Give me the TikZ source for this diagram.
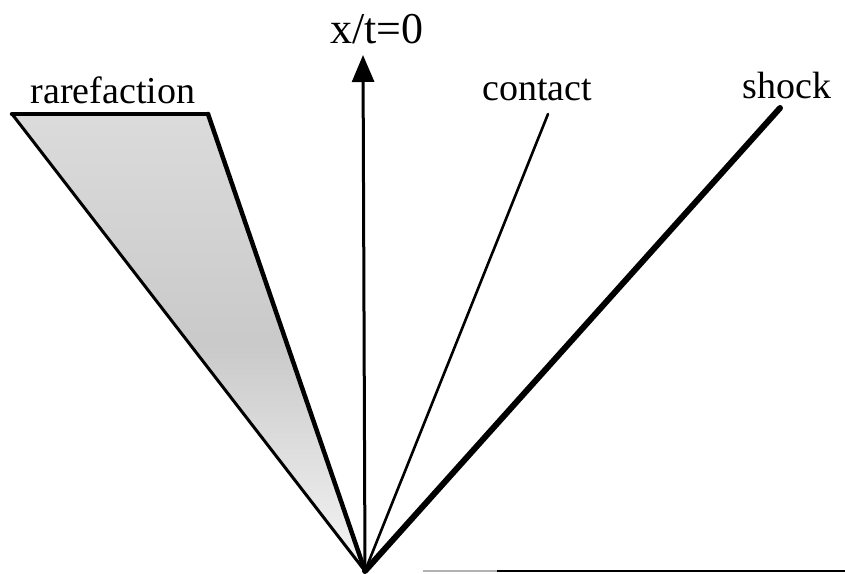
\documentclass[tikz,border=0pt]{standalone}
\usepackage{fontspec}
\setmainfont{Liberation Serif}
\usetikzlibrary{arrows.meta}
\tikzset{
  lbl/.style={inner sep=0pt, anchor=base, font=\fontsize{38}{44}\selectfont},
  wave/.style={line cap=round, line join=round}
}
\begin{document}
\begin{tikzpicture}[x=1pt,y=-1pt]
\useasboundingbox (0,0) rectangle (845,573);
\coordinate (O) at (365,571);
\coordinate (RL) at (12,114);
\coordinate (RR) at (208,114);
\coordinate (C) at (548,114);
\coordinate (S) at (780,108);
\coordinate (T) at (363,55);
\coordinate (B1) at (423,571);
\coordinate (B2) at (497,571);
\coordinate (B3) at (845,571);
% rarefaction fan
\shade[top color=gray!28, bottom color=gray!8, middle color=gray!42] (RL) -- (RR) -- (O) -- cycle;
\draw[wave, line width=3pt] (RL) -- (O);
\draw[wave, line width=4.5pt] (RR) -- (O);
\draw[wave, line width=4.5pt] (RL) -- (RR);
% axis
\draw[line width=3pt, -{Triangle[length=27pt,width=22pt]}] (O) -- (T);
% contact
\draw[wave, line width=2.6pt] (O) -- (C);
% shock
\draw[wave, line width=6pt] (O) -- (S);
% bottom line
\draw[line width=1.5pt, gray!60] (B1) -- (B2);
\draw[line width=2.5pt] (B2) -- (B3);
% labels
\node[lbl] (lx) at (377,43) {\fontsize{44}{50}\selectfont x/t=0};
\node[lbl] (lr) at (113,103) {rarefaction};
\node[lbl] (lc) at (537,100) {contact};
\node[lbl] (ls) at (787,98) {shock};
\end{tikzpicture}
\end{document}
